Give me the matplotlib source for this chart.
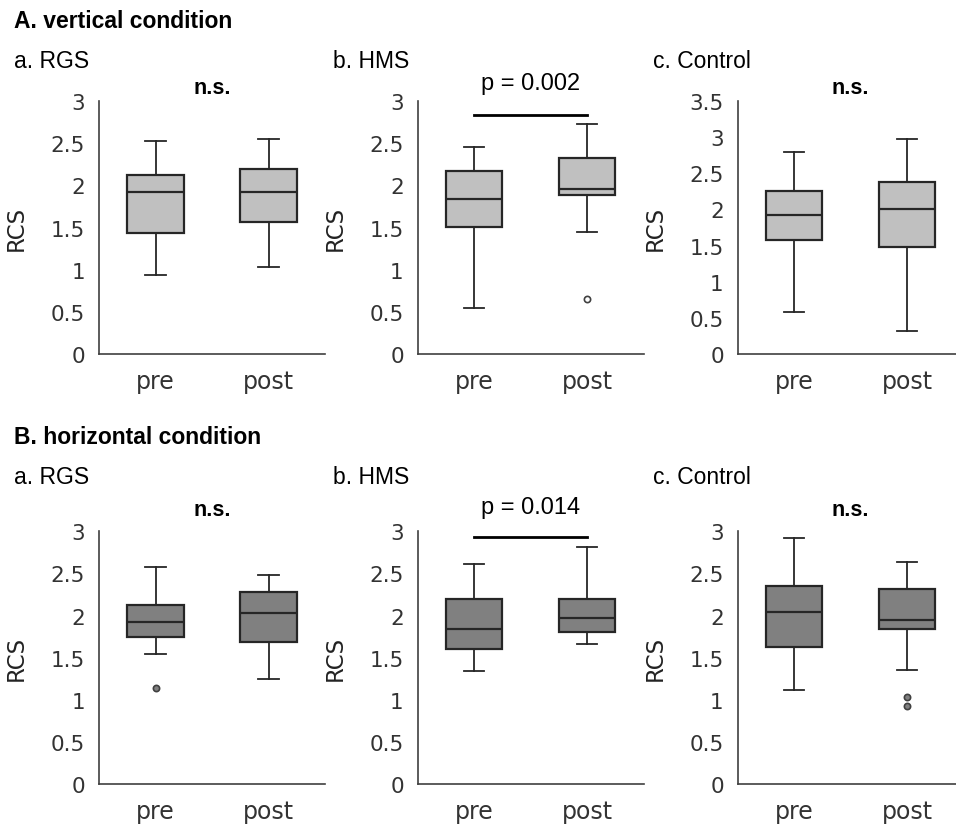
import matplotlib
matplotlib.use("Agg")
import matplotlib.pyplot as plt

plt.rcParams['font.family'] = ['DejaVu Sans']

categories = ["pre", "post"]
groups = ["a. RGS", "b. HMS", "c. Control"]
row_titles = ["A. vertical condition", "B. horizontal condition"]

# box statistics: [whislo, q1, med, q3, whishi] for (pre, post)
vert_rgs = [[0.94, 1.43, 1.92, 2.12, 2.53], [1.03, 1.57, 1.92, 2.19, 2.55]]
vert_hms = [[0.545, 1.51, 1.84, 2.17, 2.46], [1.45, 1.89, 1.96, 2.32, 2.73]]
vert_ctl = [[0.585, 1.575, 1.92, 2.25, 2.80], [0.32, 1.48, 2.01, 2.38, 2.975]]
vert_fliers = [[[], []], [[], [0.65]], [[], []]]

hor_rgs = [[1.54, 1.75, 1.92, 2.125, 2.58], [1.25, 1.69, 2.03, 2.28, 2.48]]
hor_hms = [[1.34, 1.60, 1.84, 2.20, 2.61], [1.66, 1.80, 1.97, 2.20, 2.81]]
hor_ctl = [[1.12, 1.63, 2.04, 2.355, 2.92], [1.357, 1.844, 1.947, 2.32, 2.64]]
hor_fliers = [[[1.14], []], [[], []], [[], [1.03, 0.926]]]

annotations = [["n.s.", "p = 0.002", "n.s."], ["n.s.", "p = 0.014", "n.s."]]
sig_line_y = [[None, 2.83, None], [None, 2.93, None]]
ymax = [[3, 3, 3.5], [3, 3, 3]]

rows = [[vert_rgs, vert_hms, vert_ctl], [hor_rgs, hor_hms, hor_ctl]]
fliers = [vert_fliers, hor_fliers]
fills = ["#c0c0c0", "#808080"]

W, H = 956, 829
fig = plt.figure(figsize=(W / 100, H / 100), dpi=100)

lefts = [99, 417.7, 737.7]
bottoms = [355, 785]
tops = [102, 532.3]
ax_w = 226
label_x = [14, 333, 653]
title_y = [22, 437]
group_y = [62, 478]
annot_y = [[88, 84, 88], [511, 508, 511]]

ec = "#262626"
sans = ["Liberation Sans", "DejaVu Sans"]
for r in range(2):
    fig.text(14 / W, 1 - title_y[r] / H, row_titles[r], fontsize=16.5, fontweight="bold",
             family=sans, va="center", ha="left")
    for c in range(3):
        ax = fig.add_axes([lefts[c] / W, 1 - bottoms[r] / H, ax_w / W, (bottoms[r] - tops[r]) / H])
        stats = []
        for i, cat in enumerate(categories):
            s = rows[r][c][i]
            stats.append(dict(whislo=s[0], q1=s[1], med=s[2], q3=s[3], whishi=s[4],
                              fliers=fliers[r][c][i], label=cat))
        ax.bxp(stats, positions=[0, 1], widths=0.5, patch_artist=True,
               boxprops=dict(facecolor=fills[r], edgecolor=ec, linewidth=1.6),
               medianprops=dict(color=ec, linewidth=1.6),
               whiskerprops=dict(color=ec, linewidth=1.3),
               capprops=dict(color=ec, linewidth=1.3),
               capwidths=0.18,
               flierprops=dict(marker="o", markersize=4.5, markerfacecolor=fills[r] if r == 1 else "white",
                               markeredgecolor="#404040", markeredgewidth=1.2))
        ax.set_xlim(-0.5, 1.5)
        ax.set_ylim(0, ymax[r][c])
        nt = int(ymax[r][c] * 2) + 1
        ax.set_yticks([v * 0.5 for v in range(nt)])
        ax.set_yticklabels([("%g" % (v * 0.5)) for v in range(nt)])
        for sp in ["top", "right"]:
            ax.spines[sp].set_visible(False)
        for sp in ["left", "bottom"]:
            ax.spines[sp].set_color("#404040")
            ax.spines[sp].set_linewidth(1.2)
        ax.tick_params(axis="both", length=0, colors="#333333")
        ax.tick_params(axis="y", pad=10, labelsize=15.5)
        ax.tick_params(axis="x", pad=11, labelsize=17)
        ax.set_ylabel("RCS", fontsize=16.5, color="#222222")
        ax.yaxis.set_label_coords(-71 / ax_w, 0.5)
        ax.patch.set_alpha(0)
        if sig_line_y[r][c] is not None:
            ax.plot([0, 1], [sig_line_y[r][c]] * 2, color="black", linewidth=2, clip_on=False)
        is_ns = annotations[r][c] == "n.s."
        fig.text((lefts[c] + ax_w / 2) / W, 1 - annot_y[r][c] / H, annotations[r][c],
                 fontsize=15.5 if is_ns else 17,
                 fontweight="bold" if is_ns else "normal",
                 family=sans, ha="center", va="center")
        fig.text(label_x[c] / W, 1 - group_y[r] / H, groups[c], fontsize=16.5,
                 family=sans, ha="left", va="center")

fig.savefig("out.png", dpi=100)
